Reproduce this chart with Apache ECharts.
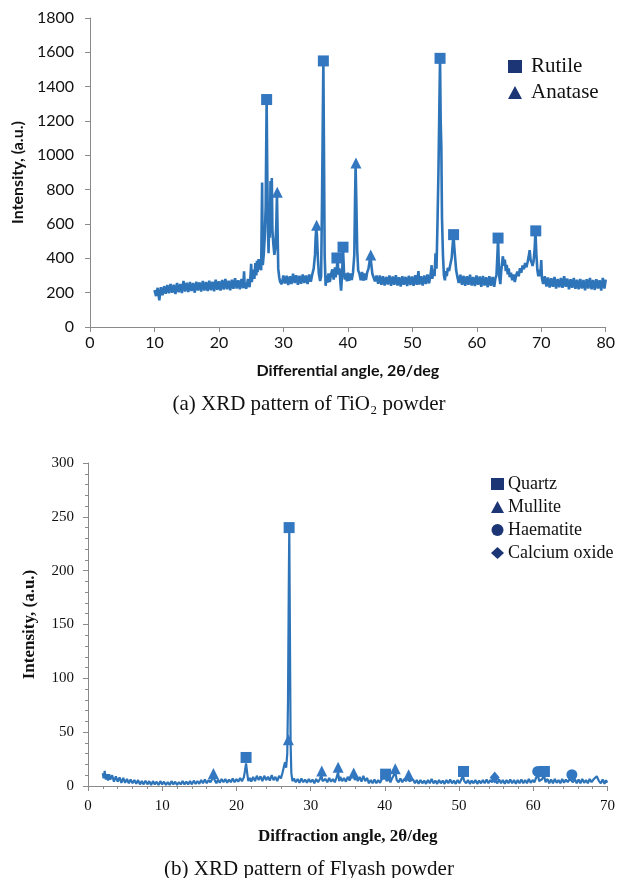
<!DOCTYPE html>
<html>
<head>
<meta charset="utf-8">
<script src="https://cdn.jsdelivr.net/npm/echarts@6/dist/echarts.min.js"></script>
<style>
  html, body { margin: 0; padding: 0; background: #fff; }
  #chart { width: 618px; height: 878px; }
</style>
</head>
<body>
<div id="chart"></div>
<script>
// (a) TiO2 powder pattern, [2theta, intensity]
const tio2Pattern = [
  [10.0,215],[10.25,180],[10.5,228],[10.75,155],[11.0,232],[11.25,185],[11.5,238],[11.75,194],
  [12.0,244],[12.25,196],[12.5,250],[12.75,200],[13.0,246],[13.25,192],[13.5,256],[13.75,202],
  [14.0,250],[14.25,198],[14.5,268],[14.75,206],[15.0,258],[15.25,204],[15.5,262],[15.75,210],
  [16.0,256],[16.25,200],[16.5,264],[16.75,212],[17.0,260],[17.25,206],[17.5,268],[17.75,212],
  [18.0,262],[18.25,210],[18.5,270],[18.75,214],[19.0,264],[19.25,208],[19.5,276],[19.75,216],
  [20.0,266],[20.25,212],[20.5,274],[20.75,218],[21.0,280],[21.25,220],[21.5,270],[21.75,214],
  [22.0,276],[22.25,222],[22.5,284],[22.75,224],[23.0,272],[23.25,220],[23.5,280],[23.75,226],
  [23.9,325],[24.0,236],[24.25,224],[24.5,280],[24.75,232],[24.9,300],[25.0,368],[25.1,262],
  [25.25,310],[25.4,335],[25.5,280],[25.65,372],[25.8,300],[25.9,385],[26.0,320],[26.15,395],
  [26.3,335],[26.45,380],[26.55,330],[26.7,842],[26.8,360],[26.95,420],[27.1,520],[27.25,700],
  [27.4,1320],[27.5,900],[27.6,560],[27.7,430],[27.8,640],[27.9,520],[28.0,850],[28.1,600],
  [28.2,868],[28.3,560],[28.45,480],[28.6,420],[28.75,460],[28.9,600],[29.0,775],[29.1,560],
  [29.2,340],[29.35,290],[29.5,262],[29.75,250],[30.0,300],[30.25,254],[30.5,298],[30.75,244],
  [31.0,296],[31.25,250],[31.5,310],[31.75,256],[32.0,302],[32.25,246],[32.5,298],[32.75,252],
  [33.0,306],[33.25,256],[33.5,300],[33.75,250],[34.0,306],[34.25,264],[34.5,310],[34.7,340],
  [34.9,420],[35.0,520],[35.1,575],[35.2,540],[35.35,400],[35.5,310],[35.7,268],[35.85,296],
  [36.0,760],[36.1,1160],[36.2,1550],[36.3,1000],[36.4,420],[36.55,240],[36.7,300],[36.85,258],
  [37.0,312],[37.2,262],[37.4,310],[37.6,335],[37.8,276],[38.0,348],[38.1,290],[38.25,325],
  [38.4,395],[38.55,305],[38.7,342],[38.85,255],[38.95,212],[39.1,300],[39.25,455],[39.4,320],
  [39.55,276],[39.7,312],[39.85,266],[40.0,316],[40.2,270],[40.4,312],[40.6,274],[40.8,318],
  [41.0,420],[41.1,700],[41.2,940],[41.3,760],[41.45,450],[41.6,330],[41.8,310],[42.0,272],
  [42.2,320],[42.4,270],[42.6,312],[42.8,274],[43.0,318],[43.2,340],[43.4,390],[43.5,410],
  [43.65,360],[43.8,310],[44.0,300],[44.2,266],[44.45,300],[44.7,252],[44.95,300],[45.2,246],
  [45.45,296],[45.7,242],[45.95,292],[46.2,248],[46.45,300],[46.7,240],[46.95,294],[47.2,246],
  [47.45,302],[47.7,242],[47.95,290],[48.2,236],[48.45,296],[48.7,246],[48.95,292],[49.2,238],
  [49.45,298],[49.7,244],[49.95,294],[50.2,240],[50.45,302],[50.7,246],[50.95,325],[51.1,248],
  [51.35,296],[51.6,242],[51.85,300],[52.1,250],[52.35,306],[52.6,254],[52.85,310],[53.0,360],
  [53.1,280],[53.3,335],[53.45,296],[53.6,430],[53.75,340],[53.9,600],[54.05,900],[54.2,1300],
  [54.3,1560],[54.4,1200],[54.5,1050],[54.6,640],[54.75,420],[54.9,300],[55.05,272],[55.2,325],
  [55.35,296],[55.5,345],[55.7,326],[55.9,365],[56.1,400],[56.3,500],[56.4,530],[56.5,470],
  [56.65,400],[56.8,330],[57.0,290],[57.2,256],[57.45,304],[57.7,246],[57.95,298],[58.2,240],
  [58.45,296],[58.7,246],[58.95,304],[59.2,242],[59.45,292],[59.7,238],[59.95,300],[60.2,246],
  [60.45,294],[60.7,234],[60.95,298],[61.2,242],[61.45,290],[61.7,232],[61.95,296],[62.2,240],
  [62.45,292],[62.7,234],[62.9,286],[63.05,300],[63.2,420],[63.3,515],[63.4,380],[63.5,290],
  [63.65,250],[63.8,330],[63.95,380],[64.05,412],[64.2,356],[64.35,392],[64.5,326],[64.65,362],
  [64.8,306],[64.95,342],[65.1,290],[65.3,316],[65.5,272],[65.7,306],[65.9,262],[66.1,300],
  [66.3,322],[66.5,296],[66.7,342],[66.9,316],[67.1,358],[67.3,336],[67.5,372],[67.7,348],
  [67.9,382],[68.05,410],[68.2,448],[68.35,390],[68.5,376],[68.65,356],[68.8,382],[68.95,440],
  [69.1,555],[69.25,420],[69.4,330],[69.55,296],[69.7,334],[69.85,296],[70.0,390],[70.1,286],
  [70.3,250],[70.55,296],[70.8,236],[71.05,288],[71.3,230],[71.55,284],[71.8,234],[72.05,292],
  [72.3,224],[72.55,280],[72.8,232],[73.05,286],[73.3,228],[73.55,296],[73.8,234],[74.05,282],
  [74.3,220],[74.55,278],[74.8,228],[75.05,286],[75.3,222],[75.55,276],[75.8,220],[76.05,280],
  [76.3,224],[76.55,274],[76.8,214],[77.05,278],[77.3,224],[77.55,286],[77.8,220],[78.05,274],
  [78.3,216],[78.55,278],[78.8,224],[79.05,272],[79.3,212],[79.55,286],[79.8,224],[80.0,276]
];
const rutilePeaks = [[27.4,1325],[36.2,1550],[38.3,402],[39.25,465],[54.3,1565],[56.4,538],[63.3,518],[69.15,560]];
const anatasePeaks = [[29.05,785],[35.15,592],[41.25,955],[43.55,420]];

// (b) Flyash powder pattern
const flyashPattern = [
  [2.0,12],[2.1,7],[2.25,14],[2.4,6],[2.55,11],[2.7,5],[2.85,11],[3.0,6],[3.25,10],[3.5,4],
  [3.75,9],[4.0,4],[4.25,8],[4.5,3],[4.75,7.5],[5.0,3],[5.25,6.5],[5.5,2.5],[5.75,6],[6.0,2.5],
  [6.25,5.5],[6.5,2],[6.75,5.5],[7.0,1.5],[7.25,4.5],[7.5,1.5],[7.75,5],[8.0,1.5],[8.25,4.5],[8.5,1],
  [8.75,4.5],[9.0,1.5],[9.25,4],[9.5,1],[9.75,4.5],[10.0,1.5],[10.25,4],[10.5,1],[10.75,3.5],[11.0,1],
  [11.25,4.5],[11.5,1.5],[11.75,4],[12.0,1],[12.25,3.5],[12.5,1.5],[12.75,4.5],[13.0,1.5],[13.25,4],[13.5,1.5],
  [13.75,4.5],[14.0,1.5],[14.25,5],[14.5,2],[14.75,4.5],[15.0,2],[15.25,5.5],[15.5,2.5],[15.75,6],[16.0,2.5],
  [16.25,5.5],[16.5,3.5],[16.7,6],[16.9,9],[17.1,5],[17.3,2.5],[17.5,6],[17.75,3],[18.0,6.5],[18.25,3.5],
  [18.5,6.5],[18.75,3],[19.0,6],[19.25,3.5],[19.5,7],[19.75,3.5],[20.0,6.5],[20.25,4],[20.5,7.5],[20.75,4.5],
  [21.0,8],[21.15,14],[21.3,21],[21.45,12],[21.6,4.5],[21.8,7.5],[22.0,4],[22.25,8.5],[22.5,4.5],[22.75,9.5],
  [23.0,5.5],[23.25,9],[23.5,4.5],[23.75,9.5],[24.0,5.5],[24.25,8.5],[24.5,5],[24.75,10],[25.0,5.5],[25.25,8.5],
  [25.5,4.5],[25.75,9.5],[26.0,7],[26.2,12],[26.4,18],[26.55,22],[26.7,17],[26.85,30],[26.95,80],[27.05,180],
  [27.12,240],[27.2,150],[27.3,40],[27.4,12],[27.55,4.5],[27.75,7],[28.0,3.5],[28.25,6.5],[28.5,3],[28.75,7],
  [29.0,3.5],[29.25,6],[29.5,3],[29.75,6.5],[30.0,3.5],[30.25,6],[30.5,2.5],[30.75,6.5],[31.0,3.5],[31.25,6.5],
  [31.45,10],[31.6,4.5],[31.8,3],[32.0,6.5],[32.25,3.5],[32.5,7.5],[32.75,4],[33.0,6.5],[33.25,3.5],[33.5,8],
  [33.7,13],[33.85,4.5],[34.0,8.5],[34.25,4.5],[34.5,7.5],[34.75,4],[35.0,8.5],[35.25,5],[35.5,9],[35.75,11],
  [35.95,5.5],[36.15,9.5],[36.35,4.5],[36.6,8.5],[36.85,4],[37.1,9.5],[37.35,4.5],[37.6,7.5],[37.85,2.5],[38.1,5.5],
  [38.35,2.5],[38.6,6],[38.85,2.5],[39.1,5.5],[39.35,3],[39.6,6.5],[39.85,8],[40.05,9],[40.25,4.5],[40.5,7],
  [40.75,3.5],[41.0,7.5],[41.2,10],[41.4,13],[41.6,5.5],[41.85,3.5],[42.1,7],[42.35,3.5],[42.6,6.5],[42.85,4.5],
  [43.1,8],[43.3,4.5],[43.55,3],[43.8,6],[44.05,2.5],[44.3,5.5],[44.55,2],[44.8,5.5],[45.05,2.5],[45.3,5],
  [45.55,2],[45.8,5.5],[46.05,2.5],[46.3,6.5],[46.55,2.5],[46.8,5],[47.05,2],[47.3,5.5],[47.55,2.5],[47.8,5],
  [48.05,2],[48.3,5.5],[48.55,2.5],[48.8,6],[49.05,2.5],[49.3,5],[49.55,2],[49.8,5.5],[50.05,2.5],[50.3,6],
  [50.5,10],[50.7,4.5],[50.95,2.5],[51.2,5.5],[51.45,2],[51.7,5],[51.95,2.5],[52.2,5.5],[52.45,2],[52.7,5],
  [52.95,2.5],[53.2,5.5],[53.45,2.5],[53.7,6],[53.95,2.5],[54.2,5.5],[54.45,3.5],[54.7,7],[54.9,4.5],[55.15,2.5],
  [55.4,6],[55.65,2.5],[55.9,5.5],[56.15,2],[56.4,5.5],[56.65,2.5],[56.9,6],[57.15,2.5],[57.4,5.5],[57.65,2],
  [57.9,5.5],[58.15,2.5],[58.4,6],[58.65,2.5],[58.9,5.5],[59.15,2.5],[59.4,6.5],[59.65,3],[59.9,5.5],[60.15,3.5],
  [60.4,8],[60.6,11],[60.8,4.5],[61.0,3],[61.2,6.5],[61.45,10],[61.65,3.5],[61.9,6.5],[62.15,2.5],[62.4,6],
  [62.65,2.5],[62.9,6.5],[63.15,3],[63.4,5.5],[63.65,2.5],[63.9,6.5],[64.15,3],[64.4,6],[64.65,3.5],[64.9,6.5],
  [65.15,8],[65.35,3.5],[65.6,6.5],[65.85,2.5],[66.1,6],[66.35,2.5],[66.6,6.5],[66.85,3],[67.1,5.5],[67.35,2.5],
  [67.6,6.5],[67.85,3.5],[68.1,6],[68.35,6],[68.55,9],[68.7,10],[68.85,4.5],[69.1,2.5],[69.35,6],[69.6,2],
  [69.8,5.5],[69.95,3]
];
const quartzPeaks = [[21.3,26.5],[27.1,240],[40.1,11],[50.6,13.5],[61.5,13.5]];
const mullitePeaks = [[16.9,11.5],[27.0,43],[31.5,14],[33.7,17.5],[35.8,12],[41.4,16],[43.2,10.5]];
const haematitePeaks = [[60.6,13.5],[65.2,10.5]];
const calciumOxidePeaks = [[54.8,8]];

const lineBlue = '#2e74b9';
const markBlue = '#3377c0';
const legendNavy = '#1b3575';
const axisGray = '#8a8a8a';
const sans = 'Lato';
const serif = 'Liberation Serif';

const myChart = echarts.init(document.getElementById('chart'));

function axisBase(font, size) {
  return {
    axisLine: { lineStyle: { color: axisGray, width: 1 } },
    axisTick: { show: true, length: 5, lineStyle: { color: axisGray } },
    splitLine: { show: false },
    axisLabel: { color: '#111', fontFamily: font, fontSize: size, formatter: function (v) { return String(v); } },
    nameLocation: 'middle',
    nameTextStyle: { color: '#111', fontFamily: font, fontWeight: 'bold' }
  };
}

function marks(name, data, symbol, size, gi) {
  return {
    name: name, type: 'scatter', data: data, symbol: symbol, symbolSize: size,
    xAxisIndex: gi, yAxisIndex: gi, itemStyle: { color: markBlue, opacity: 1 }, z: 5
  };
}

const topX = Object.assign(axisBase(sans, 16), {
  gridIndex: 0, type: 'value', min: 0, max: 80, interval: 10,
  name: 'Differential angle, 2θ/deg', nameGap: 36
});
topX.axisLabel.margin = 8;
topX.nameTextStyle.fontSize = 16;
const topY = Object.assign(axisBase(sans, 16), {
  gridIndex: 0, type: 'value', min: 0, max: 1800, interval: 200,
  name: 'Intensity, (a.u.)', nameGap: 58, nameRotate: 90
});
topY.axisLabel.margin = 16;
topY.nameTextStyle.fontSize = 16;

const botX = Object.assign(axisBase(serif, 15), {
  gridIndex: 1, type: 'value', min: 0, max: 70, interval: 10,
  minorTick: { show: true, splitNumber: 5, length: 3, lineStyle: { color: axisGray } },
  name: 'Diffraction angle, 2θ/deg', nameGap: 42
});
botX.axisLabel.margin = 13;
botX.nameTextStyle.fontSize = 17;
const botY = Object.assign(axisBase(serif, 15), {
  gridIndex: 1, type: 'value', min: 0, max: 300, interval: 50,
  minorTick: { show: true, splitNumber: 5, length: 3, lineStyle: { color: axisGray } },
  name: 'Intensity, (a.u.)', nameGap: 50, nameRotate: 90
});
botY.axisLabel.margin = 14;
botY.nameTextStyle.fontSize = 17;

const option = {
  animation: false,
  backgroundColor: '#fff',
  title: [
    { text: '(a) XRD pattern of TiO₂ powder', left: 'center', top: 389,
      textStyle: { fontFamily: serif, fontSize: 21, fontWeight: 'normal', color: '#111' } },
    { text: '(b) XRD pattern of Flyash powder', left: 'center', top: 854,
      textStyle: { fontFamily: serif, fontSize: 21, fontWeight: 'normal', color: '#111' } }
  ],
  legend: [
    { orient: 'vertical', left: 503, top: 51, itemWidth: 14, itemHeight: 13, itemGap: 5,
      textStyle: { fontFamily: serif, fontSize: 21, color: '#111', padding: [0, 0, 0, 4] },
      data: [
        { name: 'Rutile', icon: 'rect', itemStyle: { color: legendNavy } },
        { name: 'Anatase', icon: 'triangle', itemStyle: { color: legendNavy } }
      ] },
    { orient: 'vertical', left: 486, top: 470, itemWidth: 13, itemHeight: 12, itemGap: 5,
      textStyle: { fontFamily: serif, fontSize: 18, color: '#111', padding: [0, 0, 0, -1] },
      data: [
        { name: 'Quartz', icon: 'rect', itemStyle: { color: legendNavy } },
        { name: 'Mullite', icon: 'triangle', itemStyle: { color: legendNavy } },
        { name: 'Haematite', icon: 'circle', itemStyle: { color: legendNavy } },
        { name: 'Calcium oxide', icon: 'diamond', itemStyle: { color: legendNavy } }
      ] }
  ],
  grid: [
    { left: 90, top: 18, width: 517, height: 309 },
    { left: 88, top: 463, width: 520, height: 323 }
  ],
  xAxis: [topX, botX],
  yAxis: [topY, botY],
  series: [
    { name: 'TiO2', type: 'line', data: tio2Pattern, xAxisIndex: 0, yAxisIndex: 0,
      showSymbol: false, symbol: 'none', sampling: 'none',
      lineStyle: { color: lineBlue, width: 2.6 }, z: 3 },
    marks('Rutile', rutilePeaks, 'rect', 11, 0),
    marks('Anatase', anatasePeaks, 'triangle', 11, 0),
    { name: 'Flyash', type: 'line', data: flyashPattern, xAxisIndex: 1, yAxisIndex: 1,
      showSymbol: false, symbol: 'none', sampling: 'none',
      lineStyle: { color: lineBlue, width: 2.2 }, z: 3 },
    marks('Quartz', quartzPeaks, 'rect', 11, 1),
    marks('Mullite', mullitePeaks, 'triangle', 11, 1),
    marks('Haematite', haematitePeaks, 'circle', 11, 1),
    marks('Calcium oxide', calciumOxidePeaks, 'diamond', [10, 12], 1)
  ]
};

myChart.setOption(option);
</script>
</body>
</html>
